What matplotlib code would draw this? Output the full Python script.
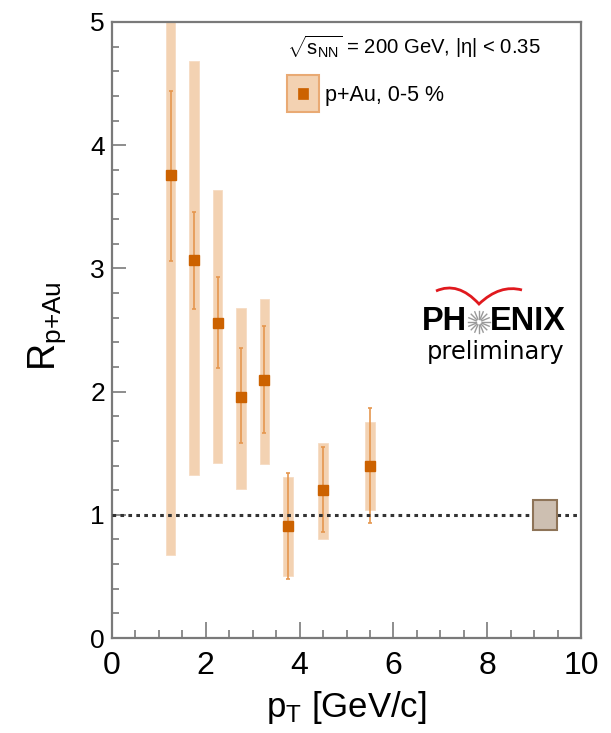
import matplotlib
matplotlib.use('Agg')
import matplotlib.pyplot as plt
from matplotlib.patches import Rectangle, PathPatch
from matplotlib.path import Path
from matplotlib import font_manager
import numpy as np

# ---- data ----
pt = [1.25, 1.75, 2.25, 2.75, 3.25, 3.75, 4.5, 5.5]
rpau = [3.755, 3.07, 2.56, 1.96, 2.095, 0.91, 1.20, 1.40]
stat_hi = [4.44, 3.455, 2.93, 2.35, 2.53, 1.34, 1.55, 1.87]
stat_lo = [3.06, 2.67, 2.19, 1.58, 1.66, 0.48, 0.86, 0.93]
sys_hi = [5.3, 4.68, 3.64, 2.68, 2.75, 1.31, 1.58, 1.75]
sys_lo = [0.67, 1.32, 1.42, 1.21, 1.41, 0.50, 0.80, 1.04]
norm_pt = 9.23
norm_unc = 0.12
xticks = [0, 2, 4, 6, 8, 10]
yticks = [0, 1, 2, 3, 4, 5]

def has_font(name):
    try:
        font_manager.findfont(name, fallback_to_default=False)
        return True
    except Exception:
        return False

narrow = 'Liberation Sans Narrow' if has_font('Liberation Sans Narrow') else 'Liberation Sans'
plt.rcParams['font.family'] = ['Liberation Sans', 'DejaVu Sans']
plt.rcParams['mathtext.fontset'] = 'custom'
plt.rcParams['mathtext.rm'] = 'Liberation Sans'
plt.rcParams['mathtext.it'] = 'Liberation Sans'
plt.rcParams['mathtext.bf'] = 'Liberation Sans'

W, H = 611, 733
fig = plt.figure(figsize=(W / 100, H / 100), dpi=100)
ax = fig.add_axes([112 / W, 1 - 638 / H, 469 / W, 616 / H])

c_marker = '#cc6200'
c_sys = '#f3d2b2'
c_stat = '#e5974f'
frame = '#7a7a7a'

r = np.array(rpau)
shi, slo = np.array(sys_hi), np.array(sys_lo)
ax.bar(pt, shi - slo, bottom=slo, width=0.2, color=c_sys, edgecolor='#f6dcc3',
       linewidth=0.6, zorder=2)
yerr = [r - np.array(stat_lo), np.array(stat_hi) - r]
ax.errorbar(pt, r, yerr=yerr, fmt='none', ecolor=c_stat, elinewidth=1.2,
            capsize=1.2, capthick=1.2, zorder=3)
ax.plot(pt, r, 's', ms=7.3, color=c_marker, mec=c_marker, zorder=4)

ax.axhline(1.0, color='#333333', lw=2.2, ls=(0, (1.2, 1.4)), zorder=5)
ax.add_patch(Rectangle((norm_pt - 0.25, 1 - norm_unc), 0.5, 2 * norm_unc,
                       facecolor='#cdbfb1', edgecolor='#8e7458', lw=1.5, zorder=6))

ax.set_xlim(0, 10)
ax.set_ylim(0, 5)
ax.set_xticks(xticks)
ax.set_yticks(yticks)
ax.set_xticks(np.arange(0, 10.01, 0.5), minor=True)
ax.set_yticks(np.arange(0, 5.01, 0.2), minor=True)
ax.tick_params(axis='x', which='major', direction='in', length=11.5, width=1.2,
               color=frame, pad=9, labelsize=23)
ax.tick_params(axis='x', which='minor', direction='in', length=5.8, width=1.2, color=frame)
ax.tick_params(axis='y', which='major', direction='in', length=10, width=1.2,
               color=frame, pad=5, labelsize=19)
ax.tick_params(axis='y', which='minor', direction='in', length=5, width=1.2, color=frame)
for lab in ax.get_xticklabels():
    lab.set_fontfamily(narrow)
for s in ax.spines.values():
    s.set_color(frame)
    s.set_linewidth(1.6)

ax.set_xlabel(r'$\mathrm{p_{T}}$ [GeV/c]', fontsize=25, family=narrow)
ax.xaxis.set_label_coords(0.5, -0.083)
ax.set_ylabel(r'$\mathrm{R_{p{+}Au}}$', fontsize=27)
ax.yaxis.set_label_coords(-0.094, 0.506)

# header text
fig.text(287 / W, 1 - 47 / H, r'$\sqrt{\mathrm{s_{NN}}}$ = 200 GeV, |η| < 0.35',
         fontsize=14.6, family=[narrow, 'DejaVu Sans'], va='center', ha='left')
# legend key
fig.add_artist(Rectangle((287 / W, 1 - 112 / H), 32 / W, 37 / H, transform=fig.transFigure,
                         facecolor=c_sys, edgecolor='#e9aa74', lw=1.5))
fig.add_artist(Rectangle((298 / W, 1 - 99 / H), 10 / W, 11 / H, transform=fig.transFigure,
                         facecolor=c_marker, edgecolor=c_marker, lw=0.5))
fig.text(325 / W, 1 - 95 / H, 'p+Au, 0-5 %', fontsize=15.5, family=narrow,
         va='center', ha='left')

# PHENIX logo
fig.text(467 / W, 1 - 322 / H, 'PH', fontsize=23.5, weight='bold', family='Liberation Sans',
         ha='right', va='center')
fig.text(490 / W, 1 - 322 / H, 'ENIX', fontsize=23.5, weight='bold', family='Liberation Sans',
         ha='left', va='center')
cx, cy = 479, 322
for a in np.linspace(0, 2 * np.pi, 16, endpoint=False):
    x0, y0 = cx + 3 * np.cos(a), cy + 3 * np.sin(a)
    x1, y1 = cx + 11 * np.cos(a), cy + 11 * np.sin(a)
    fig.add_artist(plt.Line2D([x0 / W, x1 / W], [1 - y0 / H, 1 - y1 / H],
                              transform=fig.transFigure, color='#9a9a9a', lw=1.0))
verts = [(436, 291), (458, 281), (479, 304), (500, 284), (522, 290)]
codes = [Path.MOVETO, Path.CURVE3, Path.LINETO, Path.CURVE3, Path.CURVE3]
verts_f = [(x / W, 1 - y / H) for x, y in verts]
fig.add_artist(PathPatch(Path(verts_f, codes), transform=fig.transFigure,
                         facecolor='none', edgecolor='#e0191e', lw=2.0))
fig.text(427 / W, 1 - 352 / H, 'preliminary', fontsize=17.4, family='DejaVu Sans',
         ha='left', va='center')

fig.savefig('out.png', dpi=100)
